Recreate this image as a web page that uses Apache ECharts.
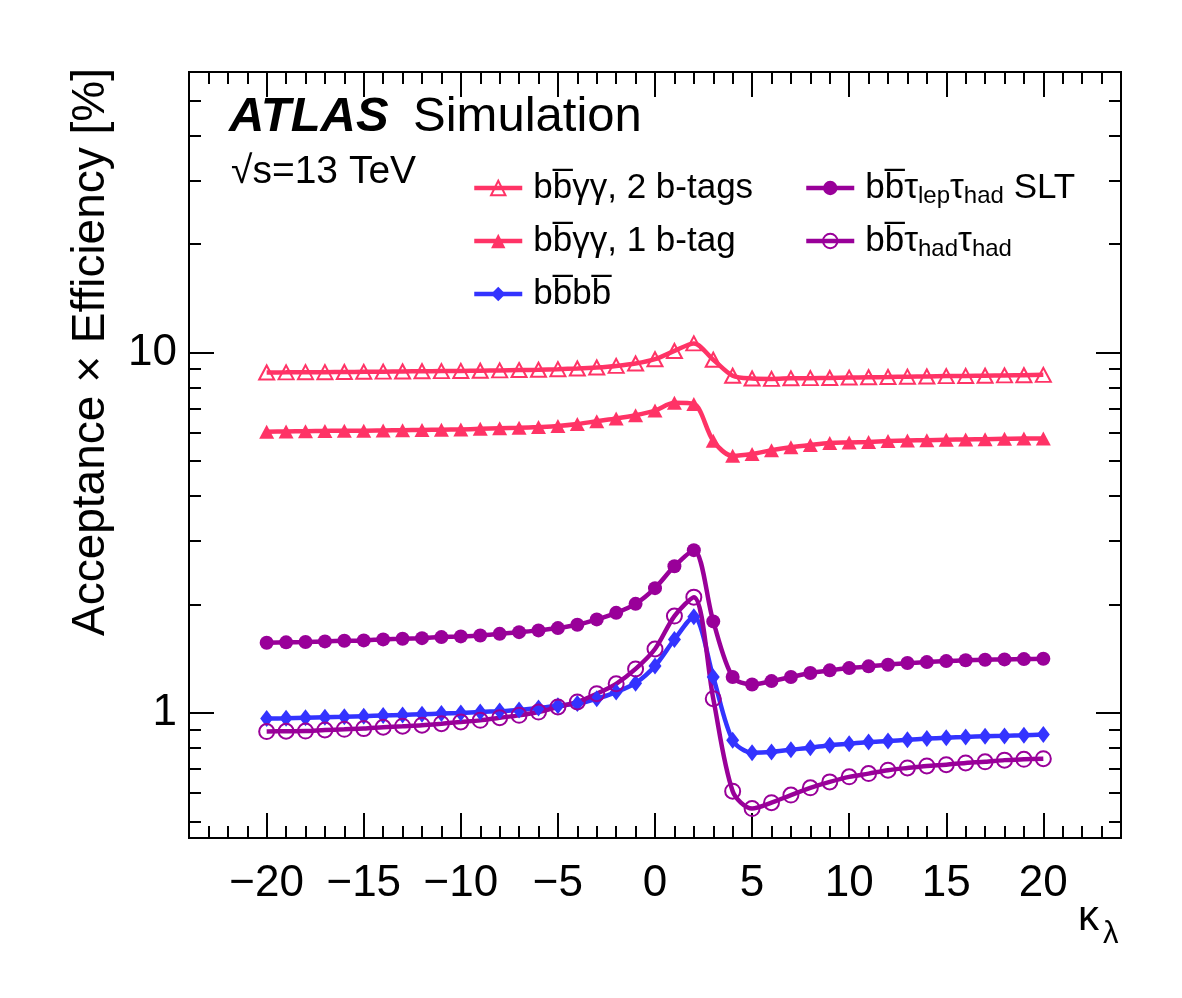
<!DOCTYPE html>
<html><head><meta charset="utf-8">
<script src="https://cdn.jsdelivr.net/npm/echarts@6/dist/echarts.min.js"></script>
<style>html,body{margin:0;padding:0;background:#fff}#c{width:1182px;height:998px}</style>
</head><body><div id="c"></div>
<script>
// ---- data ----
const kappa = [-20,-19,-18,-17,-16,-15,-14,-13,-12,-11,-10,-9,-8,-7,-6,-5,-4,-3,-2,-1,0,1,2,3,4,5,6,7,8,9,10,11,12,13,14,15,16,17,18,19,20];
const bbyy2btag = [8.80,8.81,8.82,8.82,8.83,8.84,8.85,8.86,8.87,8.88,8.89,8.90,8.92,8.94,8.96,8.99,9.03,9.09,9.18,9.32,9.58,10.1,10.6,9.55,8.62,8.47,8.45,8.48,8.49,8.50,8.52,8.54,8.55,8.57,8.58,8.60,8.61,8.62,8.64,8.65,8.67];
const bbyy1btag = [6.03,6.04,6.05,6.06,6.07,6.07,6.08,6.09,6.10,6.11,6.12,6.14,6.16,6.18,6.21,6.25,6.33,6.45,6.56,6.70,6.90,7.25,7.20,5.69,5.17,5.23,5.36,5.46,5.54,5.61,5.63,5.65,5.68,5.70,5.71,5.73,5.74,5.75,5.76,5.77,5.77];
const bbbb = [0.965,0.967,0.970,0.973,0.976,0.980,0.984,0.988,0.992,0.996,1.000,1.006,1.012,1.020,1.032,1.048,1.062,1.095,1.143,1.210,1.350,1.600,1.850,1.258,0.840,0.776,0.780,0.791,0.801,0.814,0.822,0.831,0.836,0.843,0.849,0.854,0.858,0.862,0.864,0.867,0.871];
const bbtautauSLT = [1.566,1.570,1.573,1.580,1.586,1.590,1.600,1.606,1.613,1.624,1.631,1.641,1.658,1.676,1.695,1.720,1.757,1.818,1.896,2.008,2.220,2.554,2.830,1.795,1.258,1.200,1.226,1.258,1.291,1.313,1.332,1.347,1.361,1.376,1.384,1.393,1.400,1.405,1.408,1.411,1.414];
const bbtautauHadHad = [0.888,0.890,0.891,0.897,0.901,0.905,0.913,0.919,0.925,0.934,0.944,0.954,0.970,0.985,1.006,1.039,1.073,1.131,1.205,1.325,1.505,1.857,2.096,1.096,0.607,0.543,0.564,0.592,0.620,0.644,0.665,0.679,0.694,0.704,0.713,0.719,0.727,0.732,0.740,0.744,0.747];

const seriesNames = ['bbyy2', 'bbyy1', 'bbbb', 'tautauSLT', 'tautauHH'];
const legendLabels = {
  bbyy2: 'bb\u0305\u03b3\u03b3, 2 b-tags',
  bbyy1: 'bb\u0305\u03b3\u03b3, 1 b-tag',
  bbbb: 'bb\u0305bb\u0305',
  tautauSLT: 'bb\u0305\u03c4{sub|lep}\u03c4{sub|had} SLT',
  tautauHH: 'bb\u0305\u03c4{sub|had}\u03c4{sub|had}'
};
const xMajorTicks = [-20,-15,-10,-5,0,5,10,15,20];
const xRange = [-24, 24];
const yMajorTicks = [1, 10];
const yMinorTicks = [0.5,0.6,0.7,0.8,0.9,2,3,4,5,6,7,8,9,20,30,40,50];
const yRange = [0.45, 60];

// ---- styling ----
const FONT = 'Liberation Sans';
const PINK = '#ff3366', BLUE = '#3333ff', PURPLE = '#990099';
const L = v => Math.log10(v);

const styles = {
  bbyy2:    {data: bbyy2btag, color: PINK, symbol: 'triangle', size: [15, 14], hollow: true},
  bbyy1:    {data: bbyy1btag, color: PINK, symbol: 'triangle', size: [15, 14], hollow: false},
  bbbb:     {data: bbbb, color: BLUE, symbol: 'diamond', size: [13, 17], hollow: false},
  tautauSLT:{data: bbtautauSLT, color: PURPLE, symbol: 'circle', size: 14, hollow: false},
  tautauHH: {data: bbtautauHadHad, color: PURPLE, symbol: 'circle', size: 15, hollow: true}
};

const series = seriesNames.map(n => {
  const s = styles[n];
  return {
    name: n, type: 'line', xAxisIndex: 0, yAxisIndex: 0,
    data: kappa.map((k, i) => [k, L(s.data[i])]),
    smooth: 0.3,
    symbol: s.symbol, symbolSize: s.size, showSymbol: true, showAllSymbol: true,
    lineStyle: {color: s.color, width: 4.5},
    itemStyle: s.hollow ? {color: 'rgba(255,255,255,0)', borderColor: s.color, borderWidth: 2}
                        : {color: s.color, borderWidth: 0},
    emphasis: {disabled: true},
    animation: false
  };
});

const tickStyle = {color: '#000', width: 2};
function xAxis(pos, major) {
  return {
    type: 'value', position: pos, min: xRange[0], max: xRange[1], gridIndex: 0,
    interval: major ? undefined : 1,
    axisLine: {show: false, onZero: false}, splitLine: {show: false},
    axisTick: major ? {show: true, inside: true, length: 25, customValues: xMajorTicks, lineStyle: tickStyle}
                    : {show: true, inside: true, length: 12, lineStyle: tickStyle},
    axisLabel: (major && pos === 'bottom') ? {
      show: true, customValues: xMajorTicks, margin: 24,
      formatter: v => (v < 0 ? '\u2212' + (-v) : String(v)),
      fontFamily: FONT, fontSize: 44, color: '#000'
    } : {show: false}
  };
}
function yAxis(pos, major) {
  return {
    type: 'value', position: pos, min: L(yRange[0]), max: L(yRange[1]), gridIndex: 0,
    axisLine: {show: false, onZero: false}, splitLine: {show: false},
    axisTick: {show: true, inside: true, length: major ? 25 : 12,
               customValues: (major ? yMajorTicks : yMinorTicks).map(L), lineStyle: tickStyle},
    axisLabel: (major && pos === 'left') ? {
      show: true, customValues: yMajorTicks.map(L), margin: 12,
      formatter: v => String(Math.round(Math.pow(10, v))),
      fontFamily: FONT, fontSize: 44, color: '#000'
    } : {show: false}
  };
}

const legendText = {
  fontFamily: FONT, fontSize: 35, lineHeight: 40, color: '#000', padding: [0, 0, 0, 6],
  rich: {sub: {fontFamily: FONT, fontSize: 24, lineHeight: 13, verticalAlign: 'bottom', color: '#000'}}
};
function legend(data, left) {
  return {
    data: data, orient: 'vertical', left: left, top: 168, padding: 0,
    itemWidth: 48, itemHeight: 18, itemGap: 13, selectedMode: false,
    lineStyle: {width: 4.5},
    textStyle: legendText, formatter: n => legendLabels[n]
  };
}

const chart = echarts.init(document.getElementById('c'), null, {renderer: 'canvas'});
chart.setOption({
  backgroundColor: '#fff',
  animation: false,
  grid: {left: 189, top: 72, width: 932, height: 766, show: true, borderColor: '#000', borderWidth: 2, backgroundColor: 'rgba(0,0,0,0)', containLabel: false},
  xAxis: [xAxis('bottom', true), xAxis('bottom', false), xAxis('top', true), xAxis('top', false)],
  yAxis: [yAxis('left', true), yAxis('left', false), yAxis('right', true), yAxis('right', false)],
  legend: [legend(['bbyy2', 'bbyy1', 'bbbb'], 472), legend(['tautauSLT', 'tautauHH'], 804)],
  series: series,
  graphic: [
    {type: 'text', left: 229, top: 93, style: {text: 'ATLAS', font: 'italic bold 49px "Liberation Sans"', fill: '#000'}},
    {type: 'text', left: 413, top: 93, style: {text: 'Simulation', font: '49px "Liberation Sans"', fill: '#000'}},
    {type: 'text', left: 231, top: 153, style: {text: '\u221as=13 TeV', font: '39px "Liberation Sans"', fill: '#000'}},
    {type: 'text', x: 91, y: 352, rotation: Math.PI / 2,
     style: {text: 'Acceptance \u00d7 Efficiency [%]', font: '46px "Liberation Sans"', fill: '#000',
             align: 'center', verticalAlign: 'middle', textAlign: 'center', textVerticalAlign: 'middle'}},
    {type: 'text', x: 1078, y: 918,
     style: {text: '\u03ba', font: '42px "Liberation Sans"', fill: '#000', align: 'left', verticalAlign: 'middle', textAlign: 'left', textVerticalAlign: 'middle'}},
    {type: 'text', x: 1103, y: 934,
     style: {text: '\u03bb', font: '31px "Liberation Sans"', fill: '#000', align: 'left', verticalAlign: 'middle', textAlign: 'left', textVerticalAlign: 'middle'}}
  ]
});
</script></body></html>
